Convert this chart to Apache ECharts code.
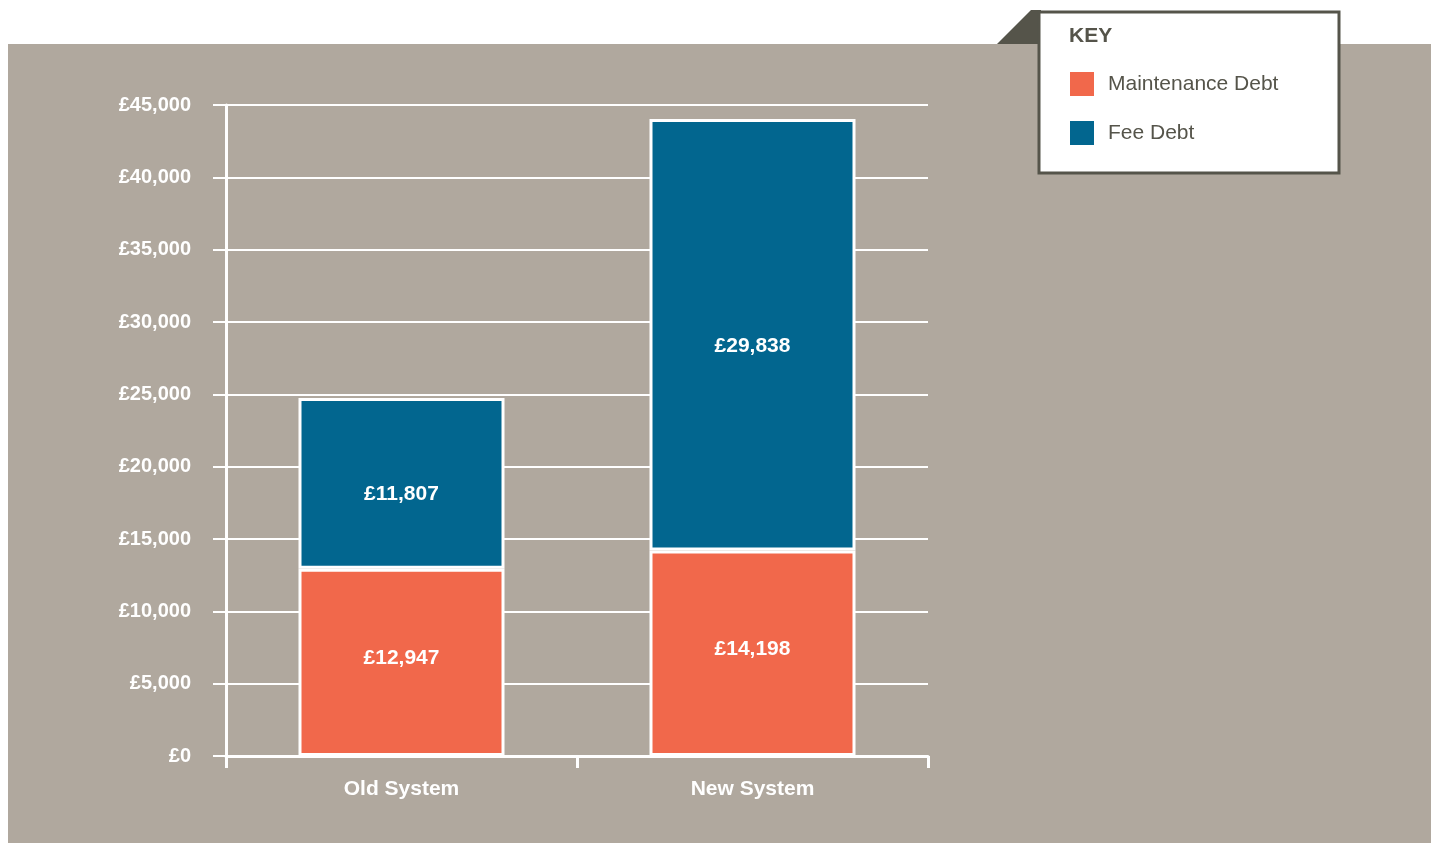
<!DOCTYPE html>
<html>
<head>
<meta charset="utf-8">
<script src="https://cdn.jsdelivr.net/npm/echarts@6/dist/echarts.min.js"></script>
<style>
  html, body { margin: 0; padding: 0; background: #fff; }
  #chart { width: 1431px; height: 843px; }
</style>
</head>
<body>
<div id="chart"></div>
<script>
// data
const categories = ['Old System', 'New System']
const maintenanceDebt = [12947, 14198]
const feeDebt = [11807, 29838]
const seriesNames = ['Maintenance Debt', 'Fee Debt']
const yMin = 0
const yMax = 45000
const yStep = 5000

const FONT = '"Liberation Sans", Arial, sans-serif'
const BG = '#b0a89e'
const DARK = '#55544a'
const ORANGE = '#f1684b'
const BLUE = '#02668f'

function money(v) {
  return '£' + Number(v).toLocaleString('en-GB')
}

const chart = echarts.init(document.getElementById('chart'))

function barSeries(name, values, color, labelShift) {
  return {
    name: name,
    type: 'bar',
    stack: 'debt',
    data: values,
    barWidth: 206,
    itemStyle: { color: color, borderColor: '#ffffff', borderWidth: 3 },
    label: {
      show: true,
      position: 'inside',
      offset: [0, labelShift],
      color: '#ffffff',
      fontFamily: FONT,
      fontSize: 21,
      fontWeight: 'bold',
      formatter: p => money(p.value),
    },
    emphasis: { disabled: true },
  }
}

chart.setOption({
  backgroundColor: '#ffffff',
  animation: false,
  textStyle: { fontFamily: FONT },
  graphic: [
    // grey panel behind the plot
    {
      type: 'rect',
      z: -10,
      silent: true,
      shape: { x: 8, y: 44, width: 1423, height: 799 },
      style: { fill: BG },
    },
    // folded corner of the key box
    {
      type: 'polygon',
      z: 5,
      silent: true,
      shape: { points: [[997, 44], [1031, 10], [1041, 10], [1041, 44]] },
      style: { fill: DARK },
    },
    // key box
    {
      type: 'rect',
      z: 6,
      silent: true,
      shape: { x: 1039, y: 12, width: 300, height: 161 },
      style: { fill: '#ffffff', stroke: DARK, lineWidth: 3 },
    },
    {
      type: 'text',
      z: 7,
      silent: true,
      left: 1069,
      top: 26,
      style: {
        text: 'KEY',
        fill: DARK,
        font: 'bold 21px ' + FONT,
      },
    },
  ],
  legend: {
    data: seriesNames,
    orient: 'vertical',
    left: 1070,
    top: 72,
    z: 10,
    padding: 0,
    itemWidth: 24,
    itemHeight: 24,
    itemGap: 25,
    icon: 'rect',
    itemStyle: { borderWidth: 0 },
    selectedMode: false,
    textStyle: {
      color: DARK,
      fontSize: 21,
      fontFamily: FONT,
      padding: [0, 0, 0, 9],
    },
  },
  grid: { left: 226, right: 503, top: 105, bottom: 87 },
  xAxis: {
    type: 'category',
    data: categories,
    axisLine: { lineStyle: { color: '#ffffff', width: 3 } },
    axisTick: {
      show: true,
      length: 12,
      // no tick at the far right end
      interval: (idx) => idx < categories.length,
      lineStyle: { color: '#ffffff', width: 3 },
    },
    axisLabel: {
      color: '#ffffff',
      fontSize: 21,
      fontWeight: 'bold',
      fontFamily: FONT,
      margin: 23,
    },
  },
  yAxis: {
    type: 'value',
    min: yMin,
    max: yMax,
    interval: yStep,
    axisLine: { show: true, lineStyle: { color: '#ffffff', width: 3 } },
    axisTick: { show: true, length: 13, lineStyle: { color: '#ffffff', width: 2 } },
    splitLine: { lineStyle: { color: '#ffffff', width: 2 } },
    axisLabel: {
      color: '#ffffff',
      fontSize: 20,
      fontWeight: 'bold',
      fontFamily: FONT,
      margin: 35,
      formatter: v => money(v),
    },
  },
  series: [
    barSeries(seriesNames[0], maintenanceDebt, ORANGE, -4),
    barSeries(seriesNames[1], feeDebt, BLUE, 11),
  ],
})

window.addEventListener('resize', () => chart.resize())
</script>
</body>
</html>
